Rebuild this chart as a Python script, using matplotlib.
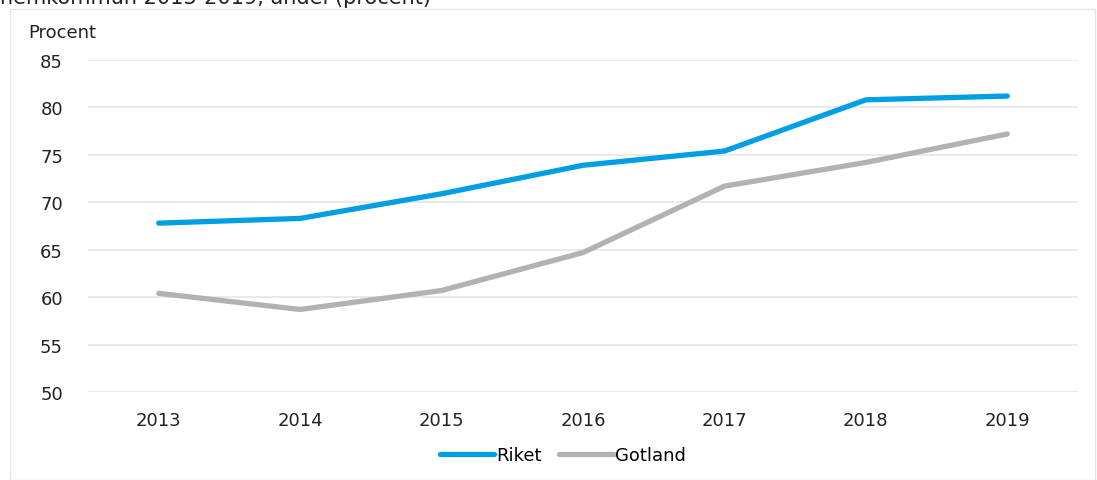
import matplotlib.pyplot as plt
from matplotlib.patches import Rectangle

years = ['2013', '2014', '2015', '2016', '2017', '2018', '2019']
riket = [67.8, 68.3, 70.9, 73.9, 75.4, 80.8, 81.2]
gotland = [60.4, 58.7, 60.7, 64.7, 71.7, 74.2, 77.2]

plt.rcParams['font.family'] = ['DejaVu Sans']

W, H = 1097, 481
fig = plt.figure(figsize=(W / 100, H / 100), dpi=100)

# chart frame
fig.patches.append(Rectangle((10 / W, 0), 1085 / W, 1 - 10 / H, transform=fig.transFigure,
                             fill=False, edgecolor='#e4e4e4', linewidth=1))
# title line, cut off by the top edge as in the source
fig.text(0, 1 - 4 / H, 'hemkommun 2013-2019, andel (procent)', fontsize=15,
         va='baseline', ha='left', color='#222222')

ax = fig.add_axes([88 / W, 1 - 393 / H, 990 / W, 332 / H])
x = range(len(years))
ax.plot(x, riket, color='#009fe3', linewidth=3.8, label='Riket', solid_capstyle='round')
ax.plot(x, gotland, color='#b2b2b2', linewidth=3.8, label='Gotland', solid_capstyle='round')

ax.set_xlim(-0.5, 6.5)
ax.set_ylim(50, 85)
ax.set_yticks(range(50, 86, 5))
ax.set_xticks(list(x))
ax.set_xticklabels(years)
ax.yaxis.grid(True, color='#e6e6e6', linewidth=1.2)
ax.set_axisbelow(True)
for s in ax.spines.values():
    s.set_visible(False)
ax.tick_params(length=0, labelsize=13, colors='#222222')
ax.tick_params(axis='x', pad=14)
ax.tick_params(axis='y', pad=18)

fig.text(28 / W, 1 - 33 / H, 'Procent', fontsize=13, va='center', ha='left', color='#222222')

fig.legend(loc='center', bbox_to_anchor=(563 / W, 1 - 456 / H), ncol=2, frameon=False,
           fontsize=13, handlelength=3.0, handletextpad=0.1, columnspacing=1.0)

fig.savefig('out.png', dpi=100)
